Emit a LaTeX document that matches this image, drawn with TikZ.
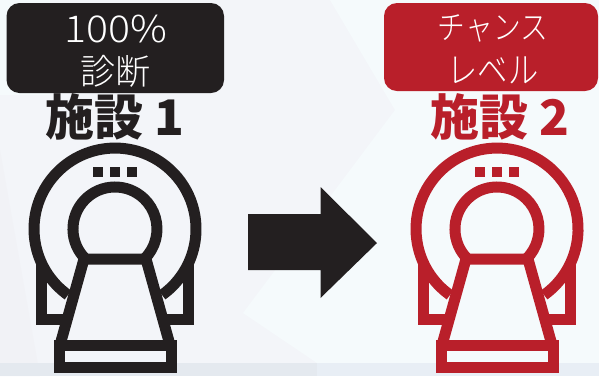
\documentclass[tikz,border=0pt]{standalone}
\usepackage{fontspec}
\setmainfont{Noto Sans CJK JP}
\newfontfamily\lightcjk{Noto Sans CJK JP Light}
\newfontfamily\widecjk[FakeStretch=1.11]{Noto Sans CJK JP Light}
\newfontfamily\kanacjk[FakeStretch=0.84]{Noto Sans CJK JP Light}
\definecolor{inkblack}{HTML}{231F20}
\definecolor{inkred}{HTML}{B91F2A}
\definecolor{bgpale}{HTML}{F3F5F9}
\definecolor{bgshade}{HTML}{F1F2F6}
\definecolor{bgwhite}{HTML}{F5FAFC}
\definecolor{bgband}{HTML}{E4E9EF}
\definecolor{bgbandlight}{HTML}{E8EEF5}
\tikzset{
  tagbox/.style={rounded corners=13pt, minimum width=#1, inner sep=0pt},
  tagtext/.style={inner sep=0pt, text=white, align=center},
  sitelabel/.style={font=\bfseries\fontsize{49}{49}\selectfont, inner sep=0pt},
  scanner/.pic={
    \draw[line width=11pt] (-47,66) arc[start angle=125.5, end angle=414.5, radius=81];
    \draw[line width=11pt] (-29.2,30.2) arc[start angle=134, end angle=406, radius=42];
    \draw[line width=11pt, line join=miter] (-55,116) -- (-31,30) -- (31,30) -- (55,116);
    \draw[line width=11pt] (-56,116.5) rectangle (56,138);
    \draw[line width=11pt, line join=miter] (-73.5,34) -- (-73.5,90.5) -- (-48,90.5);
    \draw[line width=11pt, line join=miter] (73.5,34) -- (73.5,90.5) -- (48,90.5);
    \foreach \dx in {-22,-5,12}
      \fill (\dx,-52) rectangle ++(10,-10);
  }
}
\begin{document}
\begin{tikzpicture}[x=1pt,y=-1pt]
  \useasboundingbox (0,0) rectangle (599,376);
  % backdrop
  \fill[bgpale] (0,0) rectangle (599,376);
  \fill[bgwhite] (599,0) -- (330,0) -- (395,110) -- (243,313) -- (317,363) -- (599,363) -- cycle;
  \fill[bgwhite] (0,0) -- (50,0) -- (50,95) -- (0,95) -- cycle;
  \fill[bgshade] (0,150) -- (40,376) -- (0,376) -- cycle;
  \fill[bgband] (0,363) rectangle (599,376);
  \fill[bgbandlight] (317,363) rectangle (599,376);

  \node[tagbox=217.5pt, fill=inkblack, minimum height=90pt] (tagone) at (115.25,48) {};
  \node[tagbox=214pt, fill=inkred, minimum height=88pt] (tagtwo) at (491,47) {};
  \node[tagtext, font=\widecjk\fontsize{37}{37}\selectfont] (tagonetop) at (116,29.5) {100\%};
  \node[tagtext, font=\lightcjk\fontsize{35}{35}\selectfont] (tagonebot) at (115,71) {診断};
  \node[tagtext, font=\kanacjk\fontsize{33}{33}\selectfont] (tagtwotop) at (493,28) {チャンス};
  \node[tagtext, font=\kanacjk\fontsize{36}{36}\selectfont] (tagtwobot) at (493,70) {レベル};

  \node[sitelabel, text=inkblack] (siteone) at (115,117) {施設 1};
  \node[sitelabel, text=inkred] (sitetwo) at (500,117) {施設 2};

  \pic[draw=inkblack, fill=inkblack, color=inkblack] (scanone) at (115,229) {scanner};
  \pic[draw=inkred, fill=inkred, color=inkred] (scantwo) at (497,229) {scanner};

  \fill[inkblack] (248,214) -- (320.5,214) -- (320.5,187) -- (377,243) -- (320.5,298) -- (320.5,270) -- (248,270) -- cycle;
\end{tikzpicture}
\end{document}
